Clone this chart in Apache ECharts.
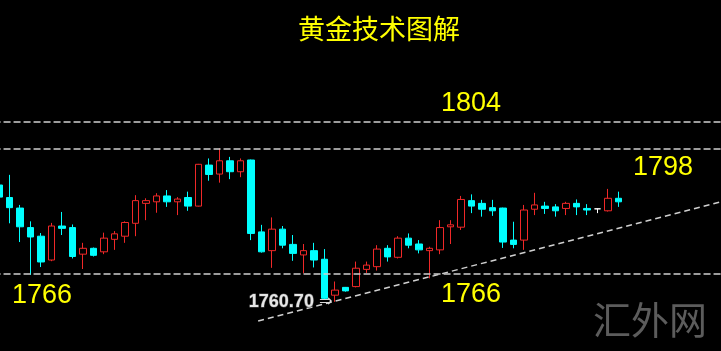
<!DOCTYPE html>
<html><head><meta charset="utf-8">
<script src="https://cdn.jsdelivr.net/npm/echarts@6/dist/echarts.min.js"></script>
<style>html,body{margin:0;padding:0;background:#000;}#c{width:721px;height:351px;}</style>
</head><body><div id="c"></div>
<script>
// ---- data ----
const slotCount = 70; // 60 candles + empty room on the right
const categories = Array.from({length: slotCount}, (_, i) => 'K' + (i + 1));
// [open, close, low, high]
const ohlc = [
  [1788.6, 1785.5, 1784.8, 1790.9],
  [1785.4, 1782.8, 1778.8, 1791.2],
  [1782.7, 1777.9, 1774.0, 1783.5],
  [1777.7, 1775.3, 1765.6, 1779.3],
  [1775.5, 1768.9, 1767.6, 1776.3],
  [1769.4, 1778.1, 1769.1, 1778.9],
  [1778.1, 1777.5, 1775.8, 1781.7],
  [1777.7, 1770.3, 1769.8, 1778.5],
  [1770.9, 1772.4, 1767.1, 1773.8],
  [1772.4, 1770.6, 1770.3, 1772.6],
  [1771.5, 1775.0, 1770.9, 1776.4],
  [1774.7, 1776.1, 1772.0, 1776.8],
  [1775.5, 1779.0, 1773.8, 1779.3],
  [1778.8, 1784.6, 1775.5, 1786.0],
  [1783.9, 1784.6, 1779.6, 1785.2],
  [1784.3, 1785.8, 1781.5, 1786.5],
  [1785.8, 1784.3, 1783.0, 1787.3],
  [1784.3, 1785.0, 1780.9, 1785.5],
  [1785.4, 1783.2, 1782.0, 1786.9],
  [1783.2, 1793.9, 1783.1, 1794.0],
  [1793.7, 1791.3, 1789.7, 1795.4],
  [1791.4, 1794.8, 1789.2, 1798.0],
  [1794.8, 1792.0, 1790.1, 1795.8],
  [1792.0, 1794.8, 1790.6, 1795.4],
  [1795.0, 1776.2, 1774.5, 1795.1],
  [1776.6, 1771.5, 1771.3, 1778.4],
  [1771.8, 1777.3, 1767.4, 1780.3],
  [1777.3, 1773.2, 1772.4, 1778.1],
  [1773.4, 1771.1, 1769.2, 1775.8],
  [1770.7, 1771.8, 1766.0, 1773.5],
  [1771.8, 1769.4, 1767.5, 1773.8],
  [1769.6, 1759.6, 1759.2, 1772.2],
  [1760.4, 1761.7, 1758.7, 1763.9],
  [1762.4, 1761.5, 1761.3, 1762.5],
  [1762.6, 1767.3, 1762.4, 1769.0],
  [1767.0, 1768.1, 1766.1, 1769.0],
  [1767.7, 1772.2, 1766.7, 1773.2],
  [1772.4, 1770.2, 1769.0, 1773.2],
  [1770.1, 1775.0, 1769.8, 1775.5],
  [1775.0, 1773.2, 1772.4, 1776.2],
  [1773.5, 1772.0, 1771.1, 1774.5],
  [1771.8, 1772.4, 1764.7, 1772.8],
  [1772.0, 1777.7, 1770.9, 1779.6],
  [1777.9, 1778.4, 1773.5, 1779.6],
  [1777.8, 1784.9, 1777.1, 1785.8],
  [1784.6, 1783.2, 1781.4, 1786.2],
  [1783.9, 1782.4, 1780.5, 1784.8],
  [1782.8, 1782.0, 1780.7, 1784.8],
  [1782.7, 1774.0, 1772.5, 1782.8],
  [1774.5, 1773.4, 1772.4, 1779.2],
  [1774.5, 1782.2, 1772.0, 1783.5],
  [1782.4, 1783.5, 1780.9, 1786.6],
  [1783.2, 1782.6, 1781.2, 1784.3],
  [1783.0, 1782.0, 1780.5, 1783.7],
  [1782.6, 1783.9, 1780.9, 1784.3],
  [1783.9, 1783.0, 1780.9, 1784.9],
  [1782.6, 1782.2, 1780.9, 1783.7],
  [1782.5, 1782.5, 1781.4, 1782.6],
  [1782.0, 1785.2, 1781.8, 1787.6],
  [1785.2, 1784.3, 1783.0, 1786.9]
];
const levelValues = [1804.9, 1798, 1766];
const levelLabels = ['1804', '1798', '1766', '1766'];
const trendX = [24.7, 68.8];
const trendY = [1753.8, 1784.3];
const lowIndex = 32;
const lowText = '1760.70';
const titleText = '黄金技术图解';
const watermarkText = '汇外网';
const yMin = 1746.11, yMax = 1835.96;

// ---- chart ----
const chart = echarts.init(document.getElementById('c'), null, {renderer: 'canvas'});
const yellow = '#ffff00';
const labelFont = '27px "Liberation Sans", Arial, sans-serif';
const option = {
  backgroundColor: '#000',
  animation: false,
  grid: {left: -6.45, top: 0, width: 735, height: 351, containLabel: false, outerBoundsMode: 'none'},
  xAxis: [
    {type: 'category', data: categories, show: false, boundaryGap: true},
    {type: 'value', min: -0.5, max: slotCount - 0.5, show: false}
  ],
  yAxis: {type: 'value', min: yMin, max: yMax, show: false, splitLine: {show: false}},
  series: [
    {
      type: 'candlestick',
      data: ohlc,
      barWidth: 7,
      itemStyle: {
        color: '#000000', color0: '#00ffff',
        borderColor: '#f02828', borderColor0: '#00ffff',
        borderColorDoji: '#ffffff', borderWidth: 1
      },
      markLine: {
        silent: true, symbol: 'none', label: {show: false},
        lineStyle: {color: '#d0d0d0', type: [7, 3], width: 1.5},
        data: levelValues.map(v => ({yAxis: v}))
      },
      markPoint: {
        silent: true,
        symbol: 'circle',
        symbolSize: 1,
        itemStyle: {color: 'rgba(0,0,0,0)'},
        data: [{
          coord: [lowIndex, ohlc[lowIndex][2]],
          label: {
            show: true, position: 'left', distance: 1, offset: [-1, 0],
            formatter: '{a|' + lowText + '}{b|⇒}',
            rich: {
              a: {color: '#e6e6e6', fontSize: 18, fontWeight: 'bold', fontFamily: 'Liberation Sans, Arial, sans-serif',
                  textBorderColor: '#555', textBorderWidth: 1, padding: [0, 5, 0, 0]},
              b: {color: '#d8d8d8', fontSize: 16, fontFamily: 'DejaVu Sans'}
            }
          }
        }]
      }
    },
    {
      type: 'line',
      xAxisIndex: 1,
      data: trendX.map((x, i) => [x, trendY[i]]),
      symbol: 'none',
      lineStyle: {color: '#d0d0d0', type: [6, 4], width: 1.5},
      silent: true
    }
  ],
  graphic: [
    {type: 'text', x: 379, y: 29, style: {text: titleText, fill: yellow, font: '27px "Noto Sans CJK SC", sans-serif', align: 'center', verticalAlign: 'middle'}},
    {type: 'text', x: 471, y: 104, style: {text: levelLabels[0], fill: yellow, font: labelFont, align: 'center', verticalAlign: 'middle'}},
    {type: 'text', x: 663, y: 168, style: {text: levelLabels[1], fill: yellow, font: labelFont, align: 'center', verticalAlign: 'middle'}},
    {type: 'text', x: 42, y: 296, style: {text: levelLabels[2], fill: yellow, font: labelFont, align: 'center', verticalAlign: 'middle'}},
    {type: 'text', x: 471, y: 295, style: {text: levelLabels[3], fill: yellow, font: labelFont, align: 'center', verticalAlign: 'middle'}},
    {type: 'text', x: 650, y: 320, style: {text: watermarkText, fill: '#5c5c5c', font: '38px "Noto Sans CJK SC", sans-serif', align: 'center', verticalAlign: 'middle'}}
  ]
};
chart.setOption(option);
</script></body></html>
